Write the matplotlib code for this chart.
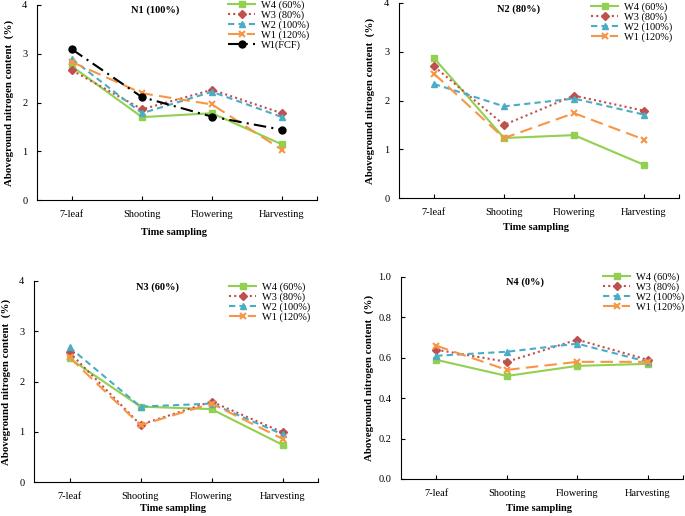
import matplotlib
matplotlib.use("Agg")
import matplotlib.pyplot as plt

plt.rcParams['font.family'] = ['Liberation Serif', 'DejaVu Serif']

stages = ["7-leaf", "Shooting", "Flowering", "Harvesting"]

# N1 (100%)
n1_w4 = [2.74, 1.70, 1.78, 1.14]
n1_w3 = [2.66, 1.86, 2.26, 1.78]
n1_w2 = [2.89, 1.78, 2.22, 1.70]
n1_w1 = [2.83, 2.19, 1.96, 1.03]
n1_fcf = [3.09, 2.11, 1.71, 1.44]

# N2 (80%)
n2_w4 = [2.87, 1.23, 1.29, 0.68]
n2_w3 = [2.70, 1.50, 2.10, 1.79]
n2_w2 = [2.34, 1.88, 2.04, 1.71]
n2_w1 = [2.55, 1.23, 1.74, 1.20]

# N3 (60%)
n3_w4 = [2.46, 1.50, 1.45, 0.74]
n3_w3 = [2.58, 1.14, 1.60, 0.99]
n3_w2 = [2.68, 1.50, 1.56, 0.95]
n3_w1 = [2.48, 1.13, 1.56, 0.86]

# N4 (0%)
n4_w4 = [0.59, 0.51, 0.56, 0.57]
n4_w3 = [0.64, 0.58, 0.69, 0.59]
n4_w2 = [0.61, 0.63, 0.67, 0.58]
n4_w1 = [0.66, 0.54, 0.58, 0.58]

labels = ["W4 (60%)", "W3 (80%)", "W2 (100%)", "W1 (120%)", "W1(FCF)"]

styles = [
    dict(color="#92D050", ls="-", marker="s"),
    dict(color="#C0504D", ls=(0, (1, 1.5)), marker="D", ms=4),
    dict(color="#4BACC6", ls=(0, (3, 2)), marker="^"),
    dict(color="#F79646", ls=(0, (6, 3)), marker="x", mew=1.5),
    dict(color="black", ls=(0, (6, 2.5, 1, 2.5)), marker="o"),
]

W, H = 685, 516
fig = plt.figure(figsize=(W / 100, H / 100), dpi=100)


def fx(px):
    return px / W


def fy(py):
    return 1 - py / H


panels = [
    # title, series, ymax, yticks, axes box (left, top, right, bottom px), legend px, title px, ylabel right x, xlabel top y
    ("N1 (100%)", [n1_w4, n1_w3, n1_w2, n1_w1, n1_fcf], 4, [0, 1, 2, 3, 4],
     (37, 5, 317, 200), (228, 0), (155, 10), 14, 228),
    ("N2 (80%)", [n2_w4, n2_w3, n2_w2, n2_w1], 4, [0, 1, 2, 3, 4],
     (399, 3, 679, 198), (591, 2), (519, 9), 375, 223),
    ("N3 (60%)", [n3_w4, n3_w3, n3_w2, n3_w1], 4, [0, 1, 2, 3, 4],
     (34, 281, 318, 482), (229, 282), (158, 287), 11, 504),
    ("N4 (0%)", [n4_w4, n4_w3, n4_w2, n4_w1], 1.0, [0.0, 0.2, 0.4, 0.6, 0.8, 1.0],
     (401, 277, 683, 479), (603, 272), (525, 282), 374, 504),
]

for title, series, ymax, yticks, box, leg, tpos, ylx, xly in panels:
    l, t, r, b = box
    ax = fig.add_axes([fx(l), fy(b), fx(r - l), (b - t) / H])
    x = list(range(len(stages)))
    for vals, lab, st in zip(series, labels, styles):
        kw = dict(lw=1.5, ms=5)
        kw.update(st)
        ax.plot(x, vals, label=lab, **kw)
    ax.set_xlim(-0.5, 3.5)
    ax.set_ylim(0, ymax)
    ax.set_xticks(x)
    ax.set_xticklabels(stages)
    ax.set_xticks([3.5], minor=True)
    ax.set_yticks(yticks)
    if ymax == 1.0:
        ax.set_yticklabels([f"{v:.1f}" for v in yticks])
    ax.spines["top"].set_visible(False)
    ax.spines["right"].set_visible(False)
    for s in ["left", "bottom"]:
        ax.spines[s].set_linewidth(0.8)
    ax.tick_params(axis="both", which="both", direction="in", length=3,
                   width=0.8, labelsize=7.5, colors="black")
    ax.tick_params(axis="y", pad=7)
    ax.tick_params(axis="x", pad=7)
    ax.text(fx(tpos[0]), fy(tpos[1]), title, transform=fig.transFigure,
            ha="center", va="center", fontsize=7.5, fontweight="bold")
    ax.set_ylabel("Aboveground nitrogen content  (%)", fontsize=7.8, fontweight="bold")
    ax.yaxis.set_label_coords(fx(ylx), fy((t + b) / 2), transform=fig.transFigure)
    ax.set_xlabel("Time sampling", fontsize=7.5, fontweight="bold")
    ax.xaxis.set_label_coords(fx((l + r) / 2 - 3), fy(xly), transform=fig.transFigure)
    ax.legend(loc="upper left", bbox_to_anchor=(fx(leg[0]), fy(leg[1])),
              bbox_transform=fig.transFigure, frameon=False, fontsize=7.5,
              handlelength=2.6, handletextpad=0.6, labelspacing=0.05,
              borderpad=0, borderaxespad=0)

fig.savefig("out.png", dpi=100)
